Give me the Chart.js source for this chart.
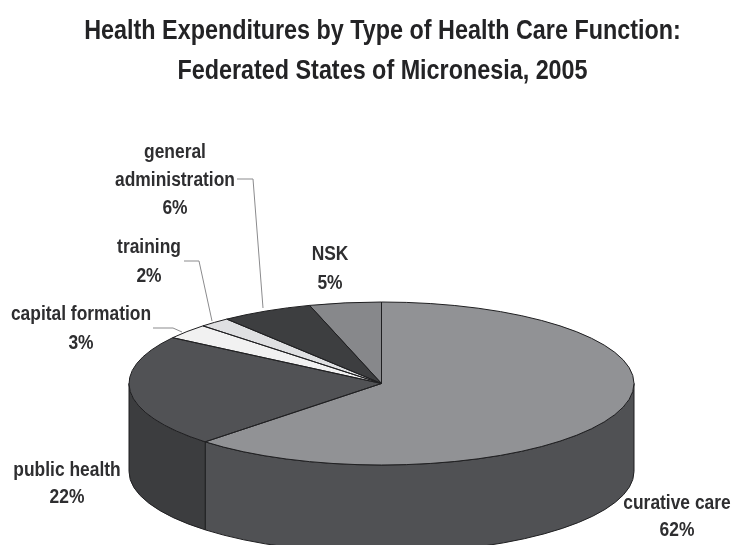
<!DOCTYPE html>
<html>
<head>
<meta charset="utf-8">
<title>Health Expenditures</title>
<script src="https://cdn.jsdelivr.net/npm/chart.js@4/dist/chart.umd.min.js"></script>
<style>
    html, body { margin: 0; padding: 0; background: #fff; overflow: hidden; }
    canvas { display: block; }
</style>
</head>
<body>
<canvas id="pie-plot" width="734" height="545"></canvas>
<script>
const titleLines = ['Health Expenditures by Type of Health Care Function:', 'Federated States of Micronesia, 2005'];
const categories = ['curative care', 'public health', 'capital formation', 'training', 'general administration', 'NSK'];
const shares = [62.3, 22.2, 3, 2, 5.9, 4.6];

const topColors = ['#919295', '#515255', '#f1f1f1', '#dfe0e2', '#3d3e40', '#87888b'];
const sideColors = ['#505154', '#3c3d3f', '#3c3d3f', '#3c3d3f', '#3c3d3f', '#3c3d3f'];

// where the flattened pie sits on the page
const pie = { x: 381.5, y: 383.5, rx: 252.5, ry: 81.5, depth: 88 };

const labelFont = 'bold 20px "Liberation Sans", sans-serif';
const titleFont = 'bold 27px "Liberation Sans", sans-serif';
const labelSpots = [
    { x: 677, y: 503, gap: 27, lines: ['curative care'] },
    { x: 67, y: 470, gap: 27, lines: ['public health'] },
    { x: 81, y: 314, gap: 29, lines: ['capital formation'] },
    { x: 149, y: 247, gap: 29, lines: ['training'] },
    { x: 175, y: 152, gap: 28, lines: ['general', 'administration'] },
    { x: 330, y: 254, gap: 29, lines: ['NSK'] }
];
const leaders = [
    [[153, 328], [173, 328], [182, 332]],
    [[184, 261], [199, 261], [212, 321]],
    [[237, 179], [253, 179], [263, 308]]
];

// no narrow font is installed, so the text gets squeezed sideways
function narrowText(ctx, text, x, y, squeeze) {
    ctx.save();
    ctx.translate(x, y);
    ctx.scale(squeeze, 1);
    ctx.fillText(text, 0, 0);
    ctx.restore();
}

const pie3d = {
    id: 'pie3d',
    beforeDatasetsDraw(chart) {
        const ctx = chart.ctx;
        const arcs = chart.getDatasetMeta(0).data;
        ctx.save();
        ctx.strokeStyle = '#1f1f21';
        ctx.lineWidth = 1;
        arcs.forEach((arc, i) => {
            const from = Math.max(arc.startAngle, 0);
            const to = Math.min(arc.endAngle, Math.PI);
            if (to <= from) {
                return;
            }
            ctx.beginPath();
            ctx.ellipse(pie.x, pie.y, pie.rx, pie.ry, 0, from, to);
            ctx.ellipse(pie.x, pie.y + pie.depth, pie.rx, pie.ry, 0, to, from, true);
            ctx.closePath();
            ctx.fillStyle = sideColors[i];
            ctx.fill();
            ctx.stroke();
        });
        ctx.restore();
    },
    beforeDatasetDraw(chart) {
        const arc = chart.getDatasetMeta(0).data[0];
        const ctx = chart.ctx;
        ctx.save();
        ctx.translate(pie.x, pie.y);
        ctx.scale(pie.rx / arc.outerRadius, pie.ry / arc.outerRadius);
        ctx.translate(-arc.x, -arc.y);
    },
    afterDatasetDraw(chart) {
        const ctx = chart.ctx;
        ctx.restore();
        // outlines are stroked here so the squash does not thin them out
        ctx.save();
        ctx.strokeStyle = '#1f1f21';
        ctx.lineWidth = 1;
        ctx.lineJoin = 'round';
        chart.getDatasetMeta(0).data.forEach(arc => {
            ctx.beginPath();
            ctx.moveTo(pie.x, pie.y);
            ctx.ellipse(pie.x, pie.y, pie.rx, pie.ry, 0, arc.startAngle, arc.endAngle);
            ctx.closePath();
            ctx.stroke();
        });
        ctx.restore();
    },
    afterDraw(chart) {
        const ctx = chart.ctx;
        ctx.save();
        ctx.strokeStyle = '#8b8b8d';
        ctx.lineWidth = 1;
        for (const line of leaders) {
            ctx.beginPath();
            line.forEach((p, i) => i ? ctx.lineTo(p[0], p[1]) : ctx.moveTo(p[0], p[1]));
            ctx.stroke();
        }
        ctx.textAlign = 'center';
        ctx.textBaseline = 'middle';
        ctx.font = titleFont;
        ctx.fillStyle = '#232325';
        narrowText(ctx, titleLines[0], 382.5, 32, 0.865);
        narrowText(ctx, titleLines[1], 382.5, 72, 0.865);
        ctx.font = labelFont;
        ctx.fillStyle = '#2e2e30';
        labelSpots.forEach((spot, i) => {
            const rows = spot.lines.concat(Math.round(shares[i]) + '%');
            rows.forEach((row, r) => narrowText(ctx, row, spot.x, spot.y + r * spot.gap, 0.87));
        });
        ctx.restore();
    }
};

new Chart(document.getElementById('pie-plot').getContext('2d'), {
    type: 'pie',
    data: {
        labels: categories,
        datasets: [{
            data: shares,
            backgroundColor: topColors,
            borderWidth: 0,
            clip: false
        }]
    },
    options: {
        responsive: false,
        animation: false,
        events: [],
        plugins: {
            legend: { display: false },
            tooltip: { enabled: false }
        }
    },
    plugins: [pie3d]
});
</script>
</body>
</html>
